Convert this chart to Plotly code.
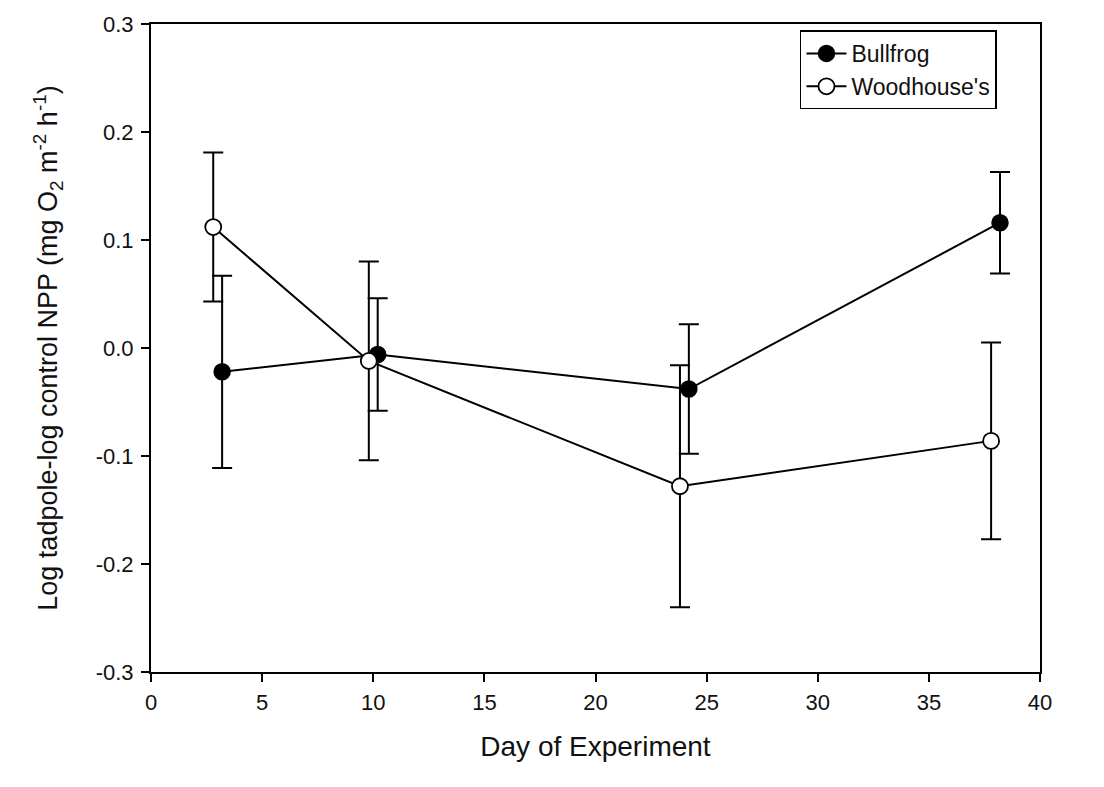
import plotly.graph_objects as go

# Data
bull_day = [3.2, 10.2, 24.2, 38.2]
bull_val = [-0.022, -0.006, -0.038, 0.116]
bull_err = [0.089, 0.052, 0.060, 0.047]

wood_day = [2.8, 9.8, 23.8, 37.8]
wood_val = [0.112, -0.012, -0.128, -0.086]
wood_err = [0.069, 0.092, 0.112, 0.091]

x_ticks = [0, 5, 10, 15, 20, 25, 30, 35, 40]
y_ticks = [-0.3, -0.2, -0.1, 0.0, 0.1, 0.2, 0.3]
y_tick_text = ["-0.3", "-0.2", "-0.1", "0.0", "0.1", "0.2", "0.3"]

FONT = "Liberation Sans, Arial, sans-serif"

fig = go.Figure()
fig.add_trace(go.Scatter(
    x=bull_day, y=bull_val, name="Bullfrog", mode="lines+markers",
    line=dict(color="black", width=2),
    marker=dict(symbol="circle", size=16, color="black", line=dict(color="black", width=1.5)),
    error_y=dict(type="data", array=bull_err, visible=True, color="black", thickness=2, width=10),
))
fig.add_trace(go.Scatter(
    x=wood_day, y=wood_val, name="Woodhouse's", mode="lines+markers",
    line=dict(color="black", width=2),
    marker=dict(symbol="circle", size=16, color="white", line=dict(color="black", width=1.8)),
    error_y=dict(type="data", array=wood_err, visible=True, color="black", thickness=2, width=10),
))

fig.update_layout(
    width=1104, height=787,
    margin=dict(l=151, r=64, t=18, b=115),
    paper_bgcolor="white", plot_bgcolor="white",
    font=dict(family=FONT, size=22, color="#111111"),
    showlegend=True,
    legend=dict(
        x=0.73, y=0.99, xanchor="left", yanchor="top",
        bgcolor="white", bordercolor="black", borderwidth=1.5,
        font=dict(family=FONT, size=23, color="#111111"),
        tracegroupgap=0, itemwidth=40, entrywidth=170,
    ),
    xaxis=dict(
        range=[0, 40], tickvals=x_ticks, ticktext=[str(v) for v in x_ticks],
        showgrid=False, zeroline=False,
        showline=True, linecolor="black", linewidth=2, mirror=True,
        ticks="outside", ticklen=8, tickwidth=2, tickcolor="black",
        tickfont=dict(size=22), ticklabelstandoff=2,
        title=dict(text="Day of Experiment", font=dict(size=28), standoff=22),
    ),
    yaxis=dict(
        range=[-0.3, 0.3], tickvals=y_ticks, ticktext=y_tick_text,
        showgrid=False, zeroline=False,
        showline=True, linecolor="black", linewidth=2, mirror=True,
        ticks="outside", ticklen=8, tickwidth=2, tickcolor="black",
        tickfont=dict(size=22), ticklabelstandoff=3,
        title=dict(text="Log tadpole-log control NPP (mg O<sub>2</sub> m<sup>-2</sup> h<sup>-1</sup>)",
                   font=dict(size=27), standoff=30),
    ),
)

fig.write_html("out.html")
